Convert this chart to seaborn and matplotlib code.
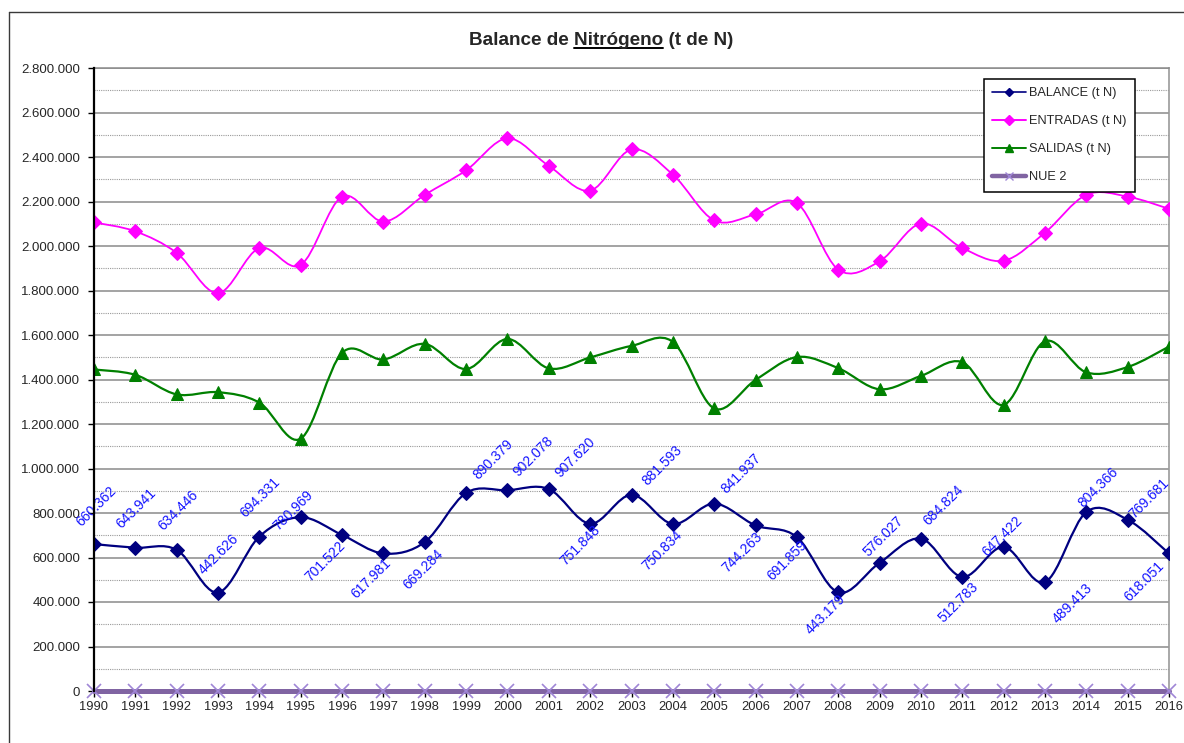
import numpy as np
import pandas as pd
import matplotlib
matplotlib.use("Agg")
import matplotlib.pyplot as plt
import seaborn as sns
from matplotlib.path import Path
from matplotlib.patches import PathPatch
from matplotlib.lines import Line2D
from matplotlib.ticker import MultipleLocator, FuncFormatter

# data (t N)
years = list(range(1990, 2017))
balance = [660362, 643941, 634446, 442626, 694331, 780969, 701522, 617981, 669284,
           890379, 902078, 907620, 751848, 881593, 750834, 841937, 744263, 691859,
           443179, 576027, 684824, 512783, 647422, 489413, 804366, 769681, 618051]
entradas = [2106000, 2066000, 1969000, 1788000, 1991000, 1915000, 2222000, 2110000, 2230000,
            2340000, 2484000, 2360000, 2249000, 2434000, 2321000, 2115000, 2142000, 2193000,
            1894000, 1931000, 2101000, 1991000, 1934000, 2060000, 2230000, 2222000, 2167000]
salidas = [1445000, 1421000, 1333000, 1343000, 1296000, 1134000, 1520000, 1490000, 1560000,
           1447000, 1582000, 1450000, 1499000, 1551000, 1569000, 1270000, 1398000, 1501000,
           1451000, 1356000, 1416000, 1478000, 1286000, 1572000, 1432000, 1456000, 1548000]
nue2 = [0] * len(years)
series_names = ["BALANCE (t N)", "ENTRADAS (t N)", "SALIDAS (t N)", "NUE 2"]

# where each BALANCE data label sits relative to its point (pixels, x right / y down)
label_offsets = [(2, -38), (1, -39), (1, -39), (1, -38), (1, -39), (-8, -7), (-17, 26),
                 (-12, 25), (-2, 27), (27, -33), (26, -34), (27, -32), (-10, 22), (31, -29),
                 (-11, 26), (27, -30), (-13, 27), (-10, 23), (-13, 22), (4, -26), (22, -33),
                 (-4, 25), (-1, -11), (28, 21), (12, -25), (21, -21), (-25, 28)]

df = pd.DataFrame({"year": years, "balance": balance, "entradas": entradas,
                   "salidas": salidas, "nue2": nue2})

sns.set_theme(style="white")
plt.rcParams["font.family"] = ["Liberation Sans", "DejaVu Sans"]

W, H = 1184, 743
fig = plt.figure(figsize=(W / 100, H / 100), dpi=100)
ax = fig.add_axes([94 / W, 1 - 691 / H, (1169 - 94) / W, (691 - 68) / H])


def smooth_path(xs, ys):
    # Excel-style smoothed line: cubic bezier through every point
    pts = np.column_stack([xs, ys]).astype(float)
    n = len(pts)
    verts, codes = [pts[0]], [Path.MOVETO]
    for i in range(n - 1):
        p0 = pts[i - 1] if i > 0 else pts[i]
        p1, p2 = pts[i], pts[i + 1]
        p3 = pts[i + 2] if i + 2 < n else p2
        verts += [p1 + (p2 - p0) / 6, p2 - (p3 - p1) / 6, p2]
        codes += [Path.CURVE4] * 3
    return Path(verts, codes)


styles = {
    "balance": dict(color="#000080", marker="D", ms=7, lw=1.6),
    "entradas": dict(color="#FF00FF", marker="D", ms=7, lw=1.3),
    "salidas": dict(color="#008000", marker="^", ms=8, lw=1.6),
}
for col, st in styles.items():
    ax.add_patch(PathPatch(smooth_path(df["year"], df[col]), fill=False,
                           edgecolor=st["color"], lw=st["lw"], zorder=4))
    sns.lineplot(data=df, x="year", y=col, ax=ax, linestyle="", marker=st["marker"],
                 markersize=st["ms"], color=st["color"], markeredgecolor=st["color"],
                 zorder=5)

sns.lineplot(data=df, x="year", y="nue2", ax=ax, color="#8064A2", lw=3.6, zorder=3,
             clip_on=False)
sns.lineplot(data=df, x="year", y="nue2", ax=ax, linestyle="", marker="x", markersize=10,
             markeredgewidth=1.2, color="#9F86D6", markeredgecolor="#9F86D6",
             zorder=3.5, clip_on=False)

for yr, val, (dx, dy) in zip(years, balance, label_offsets):
    ax.annotate(f"{val:,}".replace(",", "."), (yr, val), xytext=(dx, -dy),
                textcoords="offset pixels", rotation=45, ha="center", va="center",
                color="#1414FF", fontsize=10, zorder=6)

ax.set_xlim(1990, 2016)
ax.set_ylim(0, 2800000)
ax.set_xticks(years)
ax.set_xticklabels([str(y) for y in years])
ax.yaxis.set_major_locator(MultipleLocator(200000))
ax.yaxis.set_minor_locator(MultipleLocator(100000))
ax.yaxis.set_major_formatter(FuncFormatter(lambda v, p: f"{int(v):,}".replace(",", ".")))
ax.grid(which="major", axis="y", color="#8a8a8a", lw=1.1)
ax.grid(which="minor", axis="y", color="#9a9a9a", lw=0.8, linestyle=(0, (1, 1)))
ax.grid(which="major", axis="x", visible=False)
ax.set_axisbelow(True)
ax.tick_params(axis="y", which="major", direction="out", length=4, width=1,
               color="black", labelsize=9.5, pad=6, left=True)
ax.tick_params(axis="y", which="minor", length=0)
ax.tick_params(axis="x", direction="out", length=4, width=1, color="black",
               labelsize=9.3, pad=3, bottom=True)
ax.set_xlabel("")
ax.set_ylabel("")
ax.spines["left"].set_color("black")
ax.spines["left"].set_linewidth(1.6)
ax.spines["left"].set_zorder(6)
ax.spines["right"].set_color("#9a9a9a")
ax.spines["right"].set_linewidth(1.2)
ax.spines["top"].set_color("#8a8a8a")
ax.spines["top"].set_linewidth(1.1)
ax.spines["bottom"].set_color("black")
ax.spines["bottom"].set_linewidth(1.0)

handles = [
    Line2D([], [], color="#000080", lw=1.2, marker="D", ms=4.5),
    Line2D([], [], color="#FF00FF", lw=1.4, marker="D", ms=5.5),
    Line2D([], [], color="#008000", lw=1.4, marker="^", ms=5.5),
    Line2D([], [], color="#8064A2", lw=3.2, marker="x", ms=6, mec="#9F86D6", mew=1),
]
leg = ax.legend(handles, series_names, loc="upper left",
                bbox_to_anchor=(984 / W, 1 - 79 / H), bbox_transform=fig.transFigure,
                fontsize=9.2, frameon=True, fancybox=False, framealpha=1, edgecolor="black",
                borderpad=0.65, handlelength=2.6, handletextpad=0.3, labelspacing=1.25,
                borderaxespad=0)
leg.get_frame().set_linewidth(1.1)
leg.set_zorder(10)

# title with the underlined word
tfont = dict(fontsize=13.6, fontweight="bold")
title = fig.text(601 / W, 1 - 45 / H, "Balance de Nitrógeno (t de N)", ha="center",
                 va="baseline", **tfont)
fig.canvas.draw()
rend = fig.canvas.get_renderer()
bb = title.get_window_extent(rend)


def text_w(s):
    t = fig.text(0, 0, s, **tfont)
    w = t.get_window_extent(rend).width
    t.remove()
    return w


ux0 = bb.x1 - text_w("Nitrógeno (t de N)")
ux1 = bb.x0 + text_w("Balance de Nitrógeno")
uy = 1 - 48.3 / H
fig.add_artist(Line2D([ux0 / W, ux1 / W], [uy, uy], transform=fig.transFigure,
                      color="black", lw=1.4))

# chart area frame (left and top edges visible)
fig.add_artist(Line2D([8.5 / W, 8.5 / W], [0, 1 - 12 / H], transform=fig.transFigure,
                      color="#3a3a3a", lw=1))
fig.add_artist(Line2D([8.5 / W, 1], [1 - 12 / H, 1 - 12 / H], transform=fig.transFigure,
                      color="#3a3a3a", lw=1))

fig.savefig("out.png", dpi=100)
